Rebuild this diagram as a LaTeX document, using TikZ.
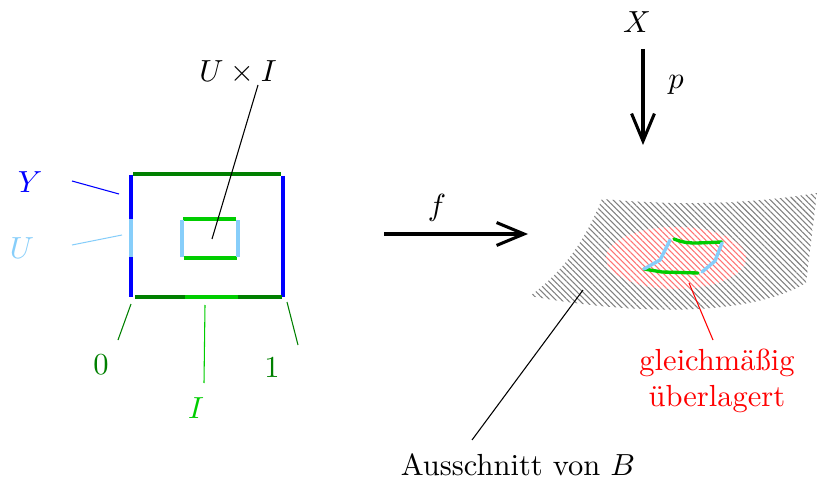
\documentclass[tikz,border=0pt]{standalone}
\usetikzlibrary{arrows.meta,patterns.meta}
\definecolor{dgreen}{RGB}{0,128,0}
\definecolor{lgreen}{RGB}{0,205,0}
\definecolor{lblue}{RGB}{135,206,250}
\definecolor{mblue}{RGB}{0,0,255}
\tikzset{
  edge/.style={line width=1.1pt},
  thinline/.style={line width=0.35pt},
  bigarrow/.style={line width=1pt,-{Straight Barb[length=9pt,width=7.5pt]}},
  lbl/.style={inner sep=1pt},
  hatch/.style={pattern={Lines[angle=-45,distance=1.35pt,line width=0.35pt]}},
}
\begin{document}
\begin{tikzpicture}[x=0.01152cm,y=-0.01152cm]
\useasboundingbox (0,0) rectangle (817,478);
% ---- left: cylinder U x I ----
\draw[edge,mblue] (131,175) -- (131,297);
\draw[edge,lblue] (131,219) -- (131,257);
\draw[edge,mblue] (283,176) -- (283,297);
\draw[edge,dgreen] (133,174) -- (281,174);
\draw[edge,dgreen] (135,297) -- (282,297);
\draw[edge,lgreen] (185,297) -- (238,297);
\draw[edge,lgreen] (183,219) -- (236,219);
\draw[edge,lgreen] (184,258) -- (237,258);
\draw[edge,lblue] (182,220) -- (182,257);
\draw[edge,lblue] (238,220) -- (238,257);
% labels
\node[lbl,mblue] (Y) at (30,182) {$Y$};
\node[lbl,lblue] (U) at (22,248) {$U$};
\node[lbl] (UI) at (238,72) {$U\times I$};
\node[lbl,dgreen] (zero) at (101,365) {$0$};
\node[lbl,lgreen] (I) at (196,408) {$I$};
\node[lbl,dgreen] (one) at (272,368) {$1$};
\coordinate (y1) at (72,181); \coordinate (y2) at (119,194);
\coordinate (u1) at (72,245); \coordinate (u2) at (122,235);
\coordinate (ui1) at (258,85); \coordinate (ui2) at (212,239);
\coordinate (z1) at (118,340); \coordinate (z2) at (131,304);
\coordinate (i1) at (204,383); \coordinate (i2) at (205,305);
\coordinate (o1) at (298,345); \coordinate (o2) at (287,302);
\draw[thinline,mblue] (y1) -- (y2);
\draw[thinline,lblue] (u1) -- (u2);
\draw[thinline] (ui1) -- (ui2);
\draw[thinline,dgreen] (z1) -- (z2);
\draw[thinline,lgreen] (i1) -- (i2);
\draw[thinline,dgreen] (o1) -- (o2);
% ---- arrows ----
\coordinate (fa) at (384,234); \coordinate (fb) at (528,234);
\draw[bigarrow] (fa) -- (fb);
\node[lbl] (f) at (437,208) {$f$};
\node[lbl] (X) at (637,22) {$X$};
\coordinate (pa) at (643,49); \coordinate (pb) at (643,145);
\draw[bigarrow] (pa) -- (pb);
\node[lbl] (p) at (676,85) {$p$};
% ---- hatched piece of B ----
\path[hatch,pattern color=gray]
  (602,199) .. controls (680,206) and (750,204) .. (817,193)
  -- (806,283) .. controls (750,316) and (640,316) .. (530,296)
  .. controls (565,270) and (585,240) .. (602,199) -- cycle;
\fill[white] (676,258) ellipse [x radius=0.806cm, y radius=0.357cm];
\path[hatch,pattern color=red!55]
  (676,258) ellipse [x radius=0.806cm, y radius=0.357cm];
% image of the inner rectangle
\draw[edge,lgreen,line cap=round] (674,239) .. controls (684,243) and (690,243) .. (697,243) -- (722,242);
\draw[edge,lgreen,line cap=round] (644,269) -- (662,272) -- (698,273);
\draw[edge,lblue,line cap=round] (722,243) -- (715,261) -- (702,272);
\draw[edge,lblue,line cap=round] (644,269) -- (660,260) -- (670,240);
% labels right
\node[lbl,red,align=center] (gl) at (717,381) {gleichmäßig\\überlagert};
\coordinate (r1) at (713,340); \coordinate (r2) at (689,283);
\draw[thinline,red] (r1) -- (r2);
\node[lbl] (B) at (518,465) {Ausschnitt von $B$};
\coordinate (b1) at (472,440); \coordinate (b2) at (583,290);
\draw[thinline] (b1) -- (b2);
\end{tikzpicture}
\end{document}
